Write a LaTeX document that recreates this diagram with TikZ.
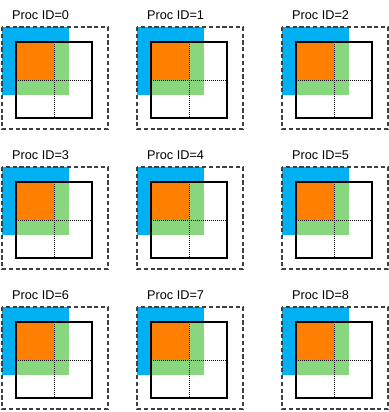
\documentclass[tikz,border=0pt]{standalone}
\usepackage{fontspec}
\setmainfont{Liberation Sans}
\definecolor{cblue}{RGB}{0,176,240}
\definecolor{corange}{RGB}{255,128,0}
\definecolor{cgreen}{RGB}{136,214,126}
\tikzset{
  halo/.style={draw=black!75, line width=1.2pt, dash pattern=on 4.2pt off 2.6pt},
  owned/.style={draw=black, line width=1.9pt},
  split/.style={draw=black, line width=0.9pt, dash pattern=on 1pt off 1pt},
  ptitle/.style={anchor=west, inner sep=0pt, font=\fontsize{12.7}{14}\selectfont}
}
\begin{document}
\begin{tikzpicture}[x=1pt,y=-1pt]
\useasboundingbox (0,0) rectangle (388,412);
\foreach \r in {0,1,2}{
  \foreach \c/\L in {0/2,1/137,2/282}{
    \pgfmathtruncatemacro{\id}{3*\r+\c}
    \pgfmathsetmacro{\T}{27+140*\r}
    \pgfmathsetmacro{\tx}{\L+10}
    \pgfmathsetmacro{\ty}{\T-11.5}
    \begin{scope}[shift={(\L,\T)}]
      \fill[cblue] (0,0) rectangle (67,68);
      \fill[cgreen] (14,15) rectangle (67,68);
      \fill[corange] (14,15) rectangle (52,53);
      \draw[split] (52,15) -- (52,91);
      \draw[split] (14,53) -- (90,53);
      \draw[owned] (14,15) rectangle (90,91);
      \draw[halo] (0,0) rectangle (106,102);
    \end{scope}
    \node[ptitle] (t\id) at (\tx,\ty) {Proc ID=\id};
  }
}
\end{tikzpicture}
\end{document}
